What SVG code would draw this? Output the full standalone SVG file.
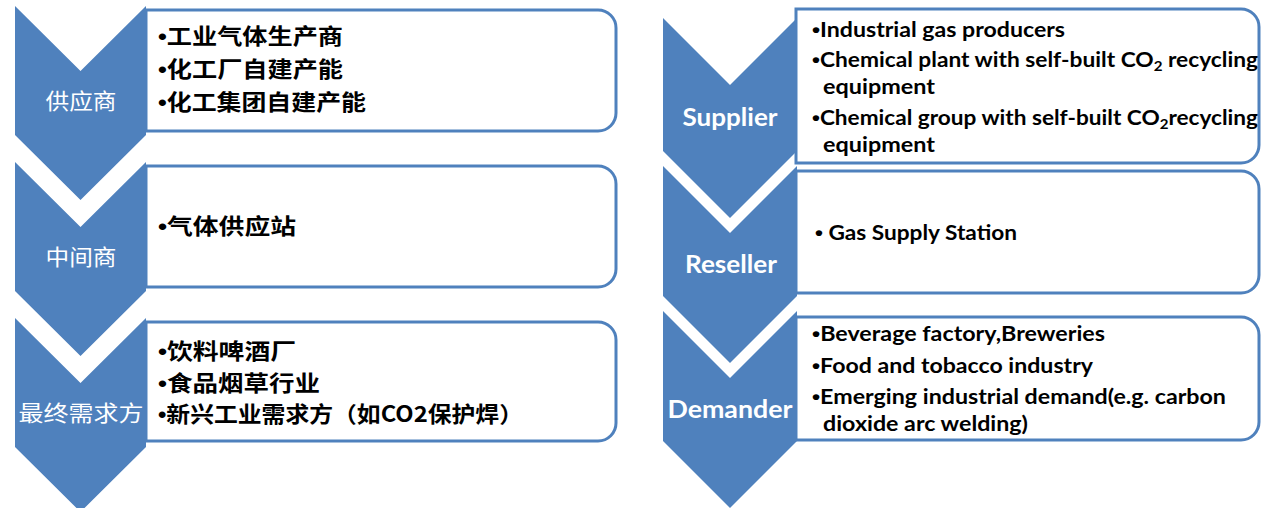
<svg xmlns="http://www.w3.org/2000/svg" width="1261" height="508" viewBox="0 0 1261 508">
<style>
.chev{fill:#4f81bd;}
.box{fill:#ffffff;stroke:#4f81bd;stroke-width:3;}
.cnl{font-family:"Noto Sans CJK SC","Noto Sans",sans-serif;font-size:22px;fill:#ffffff;}
.cnt{font-family:"Noto Sans CJK SC","Noto Sans",sans-serif;font-size:22px;font-weight:700;fill:#000000;}
.enl{font-family:Lato,"Liberation Sans",sans-serif;font-size:24px;font-weight:700;fill:#ffffff;}
.ent{font-family:Lato,"Liberation Sans",sans-serif;font-size:21px;font-weight:700;fill:#000000;}
.b{font-family:"Liberation Sans",sans-serif;font-weight:700;}
.sub{font-size:14px;}
</style>
<rect width="1261" height="508" fill="#ffffff"/>
<g id="connectors"></g>

<g id="cn-supplier">
<path class="box" d="M146,10 H598 A18,18 0 0 1 616,28 V113 A18,18 0 0 1 598,131 H146 Z"/>
<path class="chev" d="M15,6 L80.5,71 L146,6 L146,135 L80.5,200 L15,135 Z"/>
<text class="cnl" x="81" y="109" text-anchor="middle" textLength="71" lengthAdjust="spacingAndGlyphs">供应商</text>
<text class="cnt" x="158" y="44" textLength="185" lengthAdjust="spacingAndGlyphs"><tspan class="b">•</tspan>工业气体生产商</text>
<text class="cnt" x="158" y="77" textLength="185" lengthAdjust="spacingAndGlyphs"><tspan class="b">•</tspan>化工厂自建产能</text>
<text class="cnt" x="158" y="110" textLength="208" lengthAdjust="spacingAndGlyphs"><tspan class="b">•</tspan>化工集团自建产能</text>
</g>

<g id="cn-reseller">
<path class="box" d="M146,166 H598 A18,18 0 0 1 616,184 V269 A18,18 0 0 1 598,287 H146 Z"/>
<path class="chev" d="M15,162 L80.5,227 L146,162 L146,291 L80.5,356 L15,291 Z"/>
<text class="cnl" x="81" y="265" text-anchor="middle" textLength="71" lengthAdjust="spacingAndGlyphs">中间商</text>
<text class="cnt" x="158" y="234" textLength="138" lengthAdjust="spacingAndGlyphs"><tspan class="b">•</tspan>气体供应站</text>
</g>

<g id="cn-demander">
<path class="box" d="M146,322 H598 A18,18 0 0 1 616,340 V423 A18,18 0 0 1 598,441 H146 Z"/>
<path class="chev" d="M15,318 L80.5,383 L146,318 L146,447 L80.5,512 L15,447 Z"/>
<text class="cnl" x="81" y="421" text-anchor="middle" textLength="125" lengthAdjust="spacingAndGlyphs">最终需求方</text>
<text class="cnt" x="158" y="359" textLength="138" lengthAdjust="spacingAndGlyphs"><tspan class="b">•</tspan>饮料啤酒厂</text>
<text class="cnt" x="158" y="391" textLength="162" lengthAdjust="spacingAndGlyphs"><tspan class="b">•</tspan>食品烟草行业</text>
<text class="cnt" x="158" y="422" textLength="365" lengthAdjust="spacingAndGlyphs"><tspan class="b">•</tspan>新兴工业需求方（如CO2保护焊）</text>
</g>

<g id="en-supplier">
<path class="box" d="M796,9 H1241 A18,18 0 0 1 1259,27 V145 A18,18 0 0 1 1241,163 H796 Z"/>
<path class="chev" d="M663,18 L730,85 L797,18 L797,151 L730,218 L663,151 Z"/>
<text class="enl" x="730" y="126" text-anchor="middle" textLength="95" lengthAdjust="spacingAndGlyphs">Supplier</text>
<text class="ent" x="812" y="37" textLength="253" lengthAdjust="spacingAndGlyphs"><tspan class="b">•</tspan>Industrial gas producers</text>
<text class="ent" x="812" y="67" textLength="446" lengthAdjust="spacingAndGlyphs"><tspan class="b">•</tspan>Chemical plant with self-built CO<tspan class="sub" dy="4">2</tspan><tspan dy="-4"> recycling</tspan></text>
<text class="ent" x="823" y="94" textLength="112" lengthAdjust="spacingAndGlyphs">equipment</text>
<text class="ent" x="812" y="125" textLength="446" lengthAdjust="spacingAndGlyphs"><tspan class="b">•</tspan>Chemical group with self-built CO<tspan class="sub" dy="4">2</tspan><tspan dy="-4">recycling</tspan></text>
<text class="ent" x="823" y="152" textLength="112" lengthAdjust="spacingAndGlyphs">equipment</text>
</g>

<g id="en-reseller">
<path class="box" d="M796,171 H1241 A18,18 0 0 1 1259,189 V275 A18,18 0 0 1 1241,293 H796 Z"/>
<path class="chev" d="M663,166 L730,233 L797,166 L797,296 L730,363 L663,296 Z"/>
<text class="enl" x="731" y="273" text-anchor="middle" textLength="92" lengthAdjust="spacingAndGlyphs">Reseller</text>
<text class="ent" x="815" y="240" textLength="202" lengthAdjust="spacingAndGlyphs"><tspan class="b">•</tspan> Gas Supply Station</text>
</g>

<g id="en-demander">
<path class="box" d="M796,317 H1241 A18,18 0 0 1 1259,335 V422 A18,18 0 0 1 1241,440 H796 Z"/>
<path class="chev" d="M663,311 L730,378 L797,311 L797,441 L730,508 L663,441 Z"/>
<text class="enl" x="730" y="418" text-anchor="middle" textLength="125" lengthAdjust="spacingAndGlyphs">Demander</text>
<text class="ent" x="812" y="341" textLength="293" lengthAdjust="spacingAndGlyphs"><tspan class="b">•</tspan>Beverage factory,Breweries</text>
<text class="ent" x="812" y="373" textLength="281" lengthAdjust="spacingAndGlyphs"><tspan class="b">•</tspan>Food and tobacco industry</text>
<text class="ent" x="812" y="404" textLength="414" lengthAdjust="spacingAndGlyphs"><tspan class="b">•</tspan>Emerging industrial demand(e.g. carbon</text>
<text class="ent" x="823" y="431" textLength="205" lengthAdjust="spacingAndGlyphs">dioxide arc welding)</text>
</g>
</svg>
